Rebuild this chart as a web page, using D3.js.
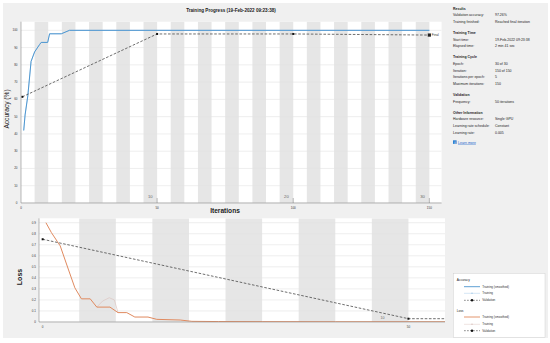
<!DOCTYPE html>
<html><head><meta charset="utf-8">
<script src="https://cdn.jsdelivr.net/npm/d3@7/dist/d3.min.js"></script>
<style>body{margin:0;background:#fff}svg{display:block;font-family:"Liberation Sans",Arial,Helvetica,sans-serif}</style>
</head><body><svg id="c" width="550" height="343"></svg>
<script>
// ---------- data ----------
const numEpochs = 30;
const itersPerEpoch = 5;
const accTicks = [0,10,20,30,40,50,60,70,80,90,100];
const iterTicksTop = [0,50,100,150];
const epochMarksTop = [10,20,30];
const accSmoothIter = [1, 1.5, 2.5, 3.7, 5, 6.8, 7.4, 9.8, 10.5, 14.8, 17.8, 150];
const accSmooth     = [42, 51, 62, 82, 87.5, 91.7, 93, 93, 98, 98, 100, 100];
const accRawIter    = [1, 1.5, 2.5, 3.7, 5, 6.8, 7.4, 9.8, 10.5, 14.8, 17.8, 150];
const accRaw        = [42, 51, 62, 82, 87.5, 91.7, 93, 93, 98, 98, 100, 100];
const valAccIter = [0.5, 50, 100, 150];
const valAcc     = [61.5, 97.9, 97.9, 97.26];

const lossTicks = [0,0.1,0.2,0.3,0.4,0.5,0.6,0.7,0.8,0.9];
const iterTicksBottom = [0,50];
const epochMarksBottom = [10];
const lossSmoothIter = [0.45, 1.2, 2.0, 2.4, 3.5, 4.4, 5.3, 6.5, 7.4, 9.2, 10.3, 11.5, 12.6, 14.4, 15.6, 18.8, 20.4, 24, 30, 40, 55];
const lossSmooth     = [0.90, 0.81, 0.73, 0.69, 0.48, 0.31, 0.21, 0.21, 0.135, 0.135, 0.085, 0.085, 0.045, 0.045, 0.024, 0.018, 0.006, 0.004, 0.003, 0.002, 0.002];
const lossRawIter = [7.4, 8.2, 9.1, 9.8, 10.3];
const lossRaw     = [0.135, 0.19, 0.22, 0.2, 0.085];
const valLossIter = [0, 50];
const valLoss     = [0.75, 0.03];

const infoSections = [
  {title:"Results", rows:[["Validation accuracy:","97.26%"],["Training finished:","Reached final iteration"]]},
  {title:"Training Time", rows:[["Start time:","19-Feb-2022 09:23:38"],["Elapsed time:","2 min 41 sec"]]},
  {title:"Training Cycle", rows:[["Epoch:","30 of 30"],["Iteration:","150 of 150"],["Iterations per epoch:","5"],["Maximum iterations:","150"]]},
  {title:"Validation", rows:[["Frequency:","50 iterations"]]},
  {title:"Other Information", rows:[["Hardware resource:","Single GPU"],["Learning rate schedule:","Constant"],["Learning rate:","0.005"]]}
];

// ---------- drawing ----------
const svg = d3.select("#c");
const BG = "#f0f0f0", STRIPE = "#e6e6e6", GRID = "#e2e2e2", AXIS = "#8c8c8c", TXT = "#333";
const BLUE = "#4d96d0", LBLUE = "#a9cdea", ORANGE = "#e08a5f", LORANGE = "#dcc6c2", VAL = "#4a4a4a";

svg.append("rect").attr("x",3).attr("y",3).attr("width",545).attr("height",335).attr("fill",BG);

const epochs = d3.range(1, numEpochs+1);

function panel(g, x, y, clipId, ticks, tickFmt, tickX) {
  const [x0,x1] = x.range(), [y0,y1] = y.range();
  g.append("clipPath").attr("id",clipId).append("rect")
    .attr("x",x0).attr("y",y1).attr("width",x1-x0).attr("height",y0-y1);
  g.append("rect").attr("x",x0).attr("y",y1).attr("width",x1-x0).attr("height",y0-y1).attr("fill","#fff");
  const cg = g.append("g").attr("clip-path",`url(#${clipId})`);
  cg.selectAll("rect.s").data(epochs.filter(e=>e%2===0)).join("rect")
    .attr("x",e=>x((e-1)*itersPerEpoch)).attr("width",e=>x(e*itersPerEpoch)-x((e-1)*itersPerEpoch))
    .attr("y",y1).attr("height",y0-y1).attr("fill",STRIPE);
  cg.selectAll("line.g").data(ticks).join("line")
    .attr("x1",x0).attr("x2",x1).attr("y1",d=>y(d)).attr("y2",d=>y(d))
    .attr("stroke",GRID).attr("stroke-width",0.6);
  g.append("line").attr("x1",x0).attr("x2",x0).attr("y1",y0).attr("y2",y1).attr("stroke",AXIS).attr("stroke-width",0.6);
  g.append("line").attr("x1",x0).attr("x2",x1).attr("y1",y0).attr("y2",y0).attr("stroke",AXIS).attr("stroke-width",0.6);
  g.selectAll("text.yt").data(ticks).join("text")
    .attr("x",tickX).attr("y",d=>y(d)+1).attr("text-anchor","end")
    .attr("font-size",3).attr("fill",TXT).text(tickFmt);
  return cg;
}

// ---- top: accuracy ----
const xT = d3.scaleLinear().domain([0,154.5]).range([21,441.6]);
const yT = d3.scaleLinear().domain([0,105]).range([203,21.7]);
const gT = svg.append("g");
const cT = panel(gT, xT, yT, "clipT", accTicks, d=>d, 17.5);
gT.selectAll("text.xt").data(iterTicksTop).join("text")
  .attr("x",d=>xT(d)).attr("y",208.5).attr("text-anchor","middle").attr("font-size",3).attr("fill",TXT).text(d=>d);
gT.selectAll("line.et").data(epochMarksTop).join("line")
  .attr("x1",d=>xT(d*itersPerEpoch)).attr("x2",d=>xT(d*itersPerEpoch)).attr("y1",198).attr("y2",203)
  .attr("stroke","#777").attr("stroke-width",0.5);
gT.selectAll("text.el").data(epochMarksTop).join("text")
  .attr("x",d=>xT(d*itersPerEpoch)-4.5).attr("y",197.5).attr("text-anchor","end")
  .attr("font-size",4.2).attr("fill","#666").text(d=>d);

const lineT = d3.line().x(d=>xT(d[0])).y(d=>yT(d[1]));
cT.append("path").attr("d",lineT(d3.zip(accRawIter,accRaw))).attr("fill","none").attr("stroke",LBLUE).attr("stroke-width",0.6);
cT.append("path").attr("d",lineT(d3.zip(accSmoothIter,accSmooth))).attr("fill","none").attr("stroke",BLUE).attr("stroke-width",1);
const vA = d3.zip(valAccIter,valAcc);
cT.append("path").attr("d",lineT(vA)).attr("fill","none").attr("stroke",VAL).attr("stroke-width",0.8).attr("stroke-dasharray","2.6,1.6");
cT.selectAll("rect.vm").data(vA.slice(0,-1)).join("rect")
  .attr("x",d=>xT(d[0])-1).attr("y",d=>yT(d[1])-1).attr("width",2).attr("height",2).attr("fill","#111");
const fA = vA[vA.length-1];
gT.append("rect").attr("x",xT(fA[0])-1.6).attr("y",yT(fA[1])-1.6).attr("width",3.2).attr("height",3.2).attr("fill","#222");
gT.append("text").attr("x",xT(fA[0])+2.5).attr("y",yT(fA[1])+1.2).attr("font-size",3.2).attr("fill",TXT).text("Final");

svg.append("text").attr("x",231).attr("y",11.5).attr("text-anchor","middle").attr("font-size",4.6).attr("font-weight","bold").attr("fill","#222")
  .text("Training Progress (19-Feb-2022 09:23:38)");
svg.append("text").attr("transform","translate(9,109) rotate(-90)").attr("text-anchor","middle").attr("font-size",6.6).attr("fill","#222").text("Accuracy (%)");
svg.append("text").attr("x",225).attr("y",213).attr("text-anchor","middle").attr("font-size",6.6).attr("font-weight","bold").attr("fill","#222").text("Iterations");

// ---- bottom: loss ----
const xB = d3.scaleLinear().domain([-0.5,55]).range([39,445]);
const yB = d3.scaleLinear().domain([0,0.94]).range([322,218.3]);
const gB = svg.append("g");
const cB = panel(gB, xB, yB, "clipB", lossTicks, d=>d===0?"0":d3.format(".1f")(d), 36);
gB.selectAll("text.xt").data(iterTicksBottom).join("text")
  .attr("x",d=>xB(d)).attr("y",328).attr("text-anchor","middle").attr("font-size",3).attr("fill",TXT).text(d=>d);
gB.selectAll("text.el").data(epochMarksBottom).join("text")
  .attr("x",d=>xB(d*itersPerEpoch)-24).attr("y",318.5).attr("text-anchor","end")
  .attr("font-size",3.6).attr("fill","#666").text(d=>d);
const lineB = d3.line().x(d=>xB(d[0])).y(d=>yB(d[1]));
cB.append("path").attr("d",lineB(d3.zip(lossRawIter,lossRaw))).attr("fill","none").attr("stroke",LORANGE).attr("stroke-width",0.7);
cB.append("path").attr("d",lineB(d3.zip(lossSmoothIter,lossSmooth))).attr("fill","none").attr("stroke",ORANGE).attr("stroke-width",1);
const vL = d3.zip(valLossIter,valLoss);
const vLext = vL.concat([[xB.domain()[1], valLoss[valLoss.length-1]]]);
cB.append("path").attr("d",lineB(vLext)).attr("fill","none").attr("stroke",VAL).attr("stroke-width",0.8).attr("stroke-dasharray","2.6,1.6");
gB.selectAll("rect.vm").data(vL).join("rect")
  .attr("x",d=>xB(d[0])-1).attr("y",d=>yB(d[1])-1).attr("width",2).attr("height",2).attr("fill","#111");
svg.append("text").attr("transform","translate(22,277) rotate(-90)").attr("text-anchor","middle").attr("font-size",7).attr("font-weight","bold").attr("fill","#222").text("Loss");

// ---- info panel ----
const info = svg.append("g").attr("font-size",3.5).attr("fill","#222");
let yy = 9.5;
infoSections.forEach((s,i)=>{
  if(i>0) yy += 11.2;
  info.append("text").attr("x",453).attr("y",yy).attr("font-weight","bold").text(s.title);
  s.rows.forEach((r,j)=>{
    yy += 6.6;
    info.append("text").attr("x",453).attr("y",yy).text(r[0]);
    info.append("text").attr("x",495).attr("y",yy).text(r[1]);
  });
});
yy += 10;
info.append("rect").attr("x",453).attr("y",yy-3.2).attr("width",3.6).attr("height",3.6).attr("fill","#2f7fd0");
info.append("text").attr("x",454.8).attr("y",yy).attr("text-anchor","middle").attr("font-size",3).attr("fill","#fff").attr("font-weight","bold").text("i");
info.append("text").attr("x",458).attr("y",yy).attr("fill","#1a66cc").attr("text-decoration","underline").text("Learn more");

// ---- legend ----
const lg = svg.append("g");
lg.append("rect").attr("x",453.3).attr("y",273.3).attr("width",91.7).attr("height",64).attr("fill","#fff").attr("stroke","#d0d0d0").attr("stroke-width",0.5);
const legendRows = [
  {type:"head", label:"Accuracy", y:279.8},
  {type:"smooth", color:BLUE, label:"Training (smoothed)", y:286.7},
  {type:"raw", color:LBLUE, label:"Training", y:293.3},
  {type:"val", label:"Validation", y:300.3},
  {type:"head", label:"Loss", y:310.6},
  {type:"smooth", color:ORANGE, label:"Training (smoothed)", y:317},
  {type:"raw", color:LORANGE, label:"Training", y:324.3},
  {type:"val", label:"Validation", y:330.7}
];
legendRows.forEach(r=>{
  if(r.type==="head"){
    lg.append("text").attr("x",456.7).attr("y",r.y+1).attr("font-size",3.2).attr("fill","#222").text(r.label);
    return;
  }
  const l = lg.append("line").attr("x1",464).attr("x2",480).attr("y1",r.y).attr("y2",r.y);
  if(r.type==="smooth") l.attr("stroke",r.color).attr("stroke-width",0.9);
  if(r.type==="raw"){ l.attr("stroke",r.color).attr("stroke-width",0.5);
    lg.append("circle").attr("cx",472).attr("cy",r.y).attr("r",0.8).attr("fill",r.color); }
  if(r.type==="val"){ l.attr("stroke",VAL).attr("stroke-width",0.6).attr("stroke-dasharray","1.8,1.2");
    lg.append("circle").attr("cx",472).attr("cy",r.y).attr("r",1.2).attr("fill","#111"); }
  lg.append("text").attr("x",482.3).attr("y",r.y+1).attr("font-size",3).attr("fill","#333").text(r.label);
});
</script></body></html>
